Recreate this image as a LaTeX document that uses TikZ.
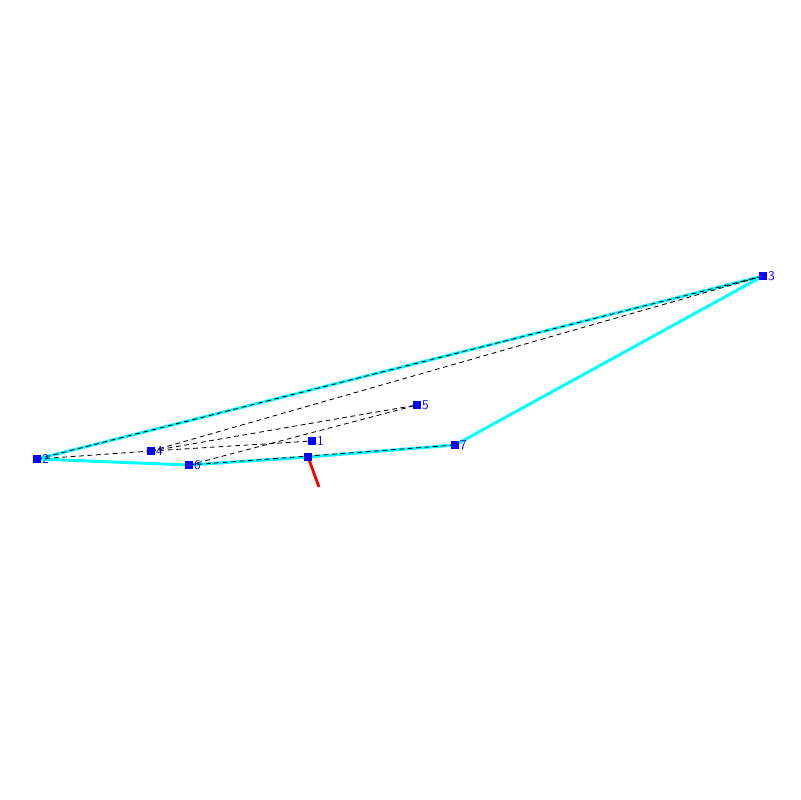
\documentclass[tikz,border=0pt]{standalone}
\definecolor{hullc}{RGB}{0,255,255}
\definecolor{vtxc}{RGB}{0,0,255}
\definecolor{redc}{RGB}{255,0,0}
\begin{document}
\begin{tikzpicture}[x=0.025cm,y=-0.025cm,
  vtx/.style={draw=none,fill=vtxc,minimum size=5.6pt,inner sep=0pt,outer sep=0pt,rectangle},
  lbl/.style={text=vtxc,font=\sffamily\fontsize{9.5}{10}\selectfont,inner sep=0pt,anchor=west},
  hull/.style={hullc,line width=2.1pt},
  edge/.style={black,line width=0.6pt,dash pattern=on 3.4pt off 2.6pt},
  redl/.style={redc,line width=2pt}]
\useasboundingbox (0,0) rectangle (800,800);
\coordinate (c1) at (312,441);
\coordinate (c2) at (37,459);
\coordinate (c3) at (763,276);
\coordinate (c4) at (151,451);
\coordinate (c5) at (417,405);
\coordinate (c6) at (189,465);
\coordinate (c7) at (455,445);
\coordinate (cp) at (308,457);
\coordinate (rend) at (319,487);
% hull
\draw[hull,line join=round] (c2) -- (c3) -- (c7) -- (cp) -- (c6) -- cycle;
% dashed edges
\draw[edge] (c2) -- (c3);
\draw[edge] (c2) -- (c4);
\draw[edge] (c4) -- (c3);
\draw[edge] (c4) -- (c5);
\draw[edge] (c4) -- (c1);
\draw[edge] (c6) -- (c5);
\draw[edge] (c6) -- (c7);
% red
\draw[redl] (cp) -- (rend);
% vertices
\foreach \i in {1,...,7} {
  \node[vtx] (n\i) at (c\i) {};
  \node[lbl] (l\i) at ([xshift=0.6pt]n\i.east) {\i};
}
\node[vtx] (np) at (cp) {};
\end{tikzpicture}
\end{document}
